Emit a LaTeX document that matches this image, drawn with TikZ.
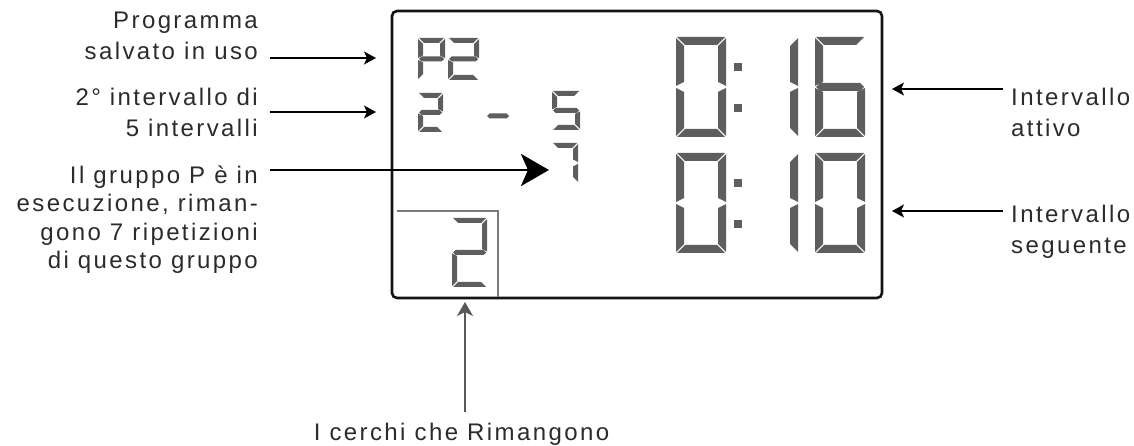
\documentclass[tikz,border=0pt]{standalone}
\usepackage{fontspec}
\setmainfont{Liberation Sans}[LetterSpace=10]
\usetikzlibrary{arrows.meta}
\definecolor{segc}{HTML}{5E5E5E}
\definecolor{txt}{HTML}{2B2B2B}
\definecolor{frame}{HTML}{141414}
\definecolor{inner}{HTML}{7A7A7A}
% seven-segment helpers
\newcommand\segA{\fill[seg] ({\gx+1},\gy) -- ({\gx+\gw-1},\gy) -- ({\gx+\gw-1-\gt},{\gy+\gt}) -- ({\gx+1+\gt},{\gy+\gt}) -- cycle;}
\newcommand\segD{\fill[seg] ({\gx+1},{\gy+\gh}) -- ({\gx+\gw-1},{\gy+\gh}) -- ({\gx+\gw-1-\gt},{\gy+\gh-\gt}) -- ({\gx+1+\gt},{\gy+\gh-\gt}) -- cycle;}
\newcommand\segF{\fill[seg] (\gx,{\gy+1}) -- ({\gx+\gt},{\gy+1+\gt}) -- ({\gx+\gt},{\gy+\gh/2-1-\gt/2}) -- (\gx,{\gy+\gh/2-1}) -- cycle;}
\newcommand\segE{\fill[seg] (\gx,{\gy+\gh-1}) -- ({\gx+\gt},{\gy+\gh-1-\gt}) -- ({\gx+\gt},{\gy+\gh/2+1+\gt/2}) -- (\gx,{\gy+\gh/2+1}) -- cycle;}
\newcommand\segB{\fill[seg] ({\gx+\gw},{\gy+1}) -- ({\gx+\gw-\gt},{\gy+1+\gt}) -- ({\gx+\gw-\gt},{\gy+\gh/2-1-\gt/2}) -- ({\gx+\gw},{\gy+\gh/2-1}) -- cycle;}
\newcommand\segC{\fill[seg] ({\gx+\gw},{\gy+\gh-1}) -- ({\gx+\gw-\gt},{\gy+\gh-1-\gt}) -- ({\gx+\gw-\gt},{\gy+\gh/2+1+\gt/2}) -- ({\gx+\gw},{\gy+\gh/2+1}) -- cycle;}
\newcommand\segG{\fill[seg] ({\gx+1},{\gy+\gh/2}) -- ({\gx+1+\gt/2},{\gy+\gh/2-\gt/2}) -- ({\gx+\gw-1-\gt/2},{\gy+\gh/2-\gt/2}) -- ({\gx+\gw-1},{\gy+\gh/2}) -- ({\gx+\gw-1-\gt/2},{\gy+\gh/2+\gt/2}) -- ({\gx+1+\gt/2},{\gy+\gh/2+\gt/2}) -- cycle;}
\newcommand\lcddigit[6]{\def\gx{#1}\def\gy{#2}\def\gw{#3}\def\gh{#4}\def\gt{#5}%
  \foreach \s in {#6}{\csname seg\s\endcsname}}
\begin{document}
\begin{tikzpicture}[x=1bp,y=-1bp,
  seg/.style={fill=segc},
  lbl/.style={inner sep=0pt, text=txt, font={\fontsize{24bp}{31bp}\selectfont}},
  lbltight/.style={inner sep=0pt, text=txt, font={\fontsize{24bp}{28.5bp}\selectfont}},
  arr/.style={line width=1.6bp, draw=black, -{Stealth[length=12bp,width=13bp,inset=3bp]}},
  bigarr/.style={line width=2.8bp, draw=black, -{Stealth[length=28bp,width=32bp,inset=7bp]}},
  uparr/.style={line width=1.8bp, draw=black!65, -{Stealth[length=14bp,width=16bp,inset=4bp]}}]
\useasboundingbox (0,0) rectangle (1134,446);

% display frame
\draw[line width=2.6bp, draw=frame, rounded corners=5bp] (392,11) rectangle (882,298);
\draw[line width=2bp, draw=inner] (397,211) -- (498,211) -- (498,297);

% small digits
\lcddigit{418}{38}{27}{42}{5}{A,B,G,F,E}
\lcddigit{448}{38}{31}{42}{5}{A,B,G,E,D}
\lcddigit{418}{93}{25}{39}{5}{A,B,G,E,D}
\lcddigit{486}{96}{24}{40}{5}{G}
\lcddigit{552}{91}{28}{39}{5}{A,F,G,C,D}
\lcddigit{552}{143}{26}{40}{5}{A,B,C}
\lcddigit{452}{218}{35}{69}{5}{A,B,G,E,D}

% big digits
\lcddigit{676}{37}{50}{100}{8}{A,B,C,D,E,F}
\lcddigit{748}{37}{50}{100}{8}{B,C}
\lcddigit{815}{37}{50}{100}{8}{A,F,G,E,D,C}
\lcddigit{676}{153}{50}{100}{8}{A,B,C,D,E,F}
\lcddigit{748}{153}{50}{100}{8}{B,C}
\lcddigit{815}{153}{50}{100}{8}{A,B,C,D,E,F}
\fill[segc] (733.5,63) rectangle (741.5,71);
\fill[segc] (733.5,104) rectangle (741.5,112);
\fill[segc] (733.5,179) rectangle (741.5,187);
\fill[segc] (733.5,220) rectangle (741.5,228);

% labels
\node[lbl, align=right, anchor=north east] (l1) at (258,11.5) {Programma\\salvato in uso};
\node[lbl, align=right, anchor=north east] (l2) at (258,87.5) {2° intervallo di\\5 intervalli};
\node[lbltight, align=right, anchor=north east] (l3) at (258,165.5) {Il gruppo P è in\\esecuzione, riman-\\gono 7 ripetizioni\\di questo gruppo};
\node[lbl, align=left, anchor=north west] (r1) at (1011,87.5) {Intervallo\\attivo};
\node[lbl, align=left, anchor=north west] (r2) at (1011,204.5) {Intervallo\\seguente};
\node[lbl, anchor=north] (b1) at (461.5,422.5) {I cerchi che Rimangono};

% connectors
\coordinate (a1s) at (270,58);  \coordinate (a1e) at (376,58);
\coordinate (a2s) at (270,112); \coordinate (a2e) at (376,112);
\coordinate (a3s) at (270,170); \coordinate (a3e) at (549,170);
\coordinate (a4s) at (1003,89); \coordinate (a4e) at (892,89);
\coordinate (a5s) at (1003,211); \coordinate (a5e) at (892,211);
\coordinate (a6s) at (465,412); \coordinate (a6e) at (465,302);
\draw[arr] (a1s) -- (a1e);
\draw[arr] (a2s) -- (a2e);
\draw[bigarr] (a3s) -- (a3e);
\draw[arr] (a4s) -- (a4e);
\draw[arr] (a5s) -- (a5e);
\draw[uparr] (a6s) -- (a6e);
\end{tikzpicture}
\end{document}
